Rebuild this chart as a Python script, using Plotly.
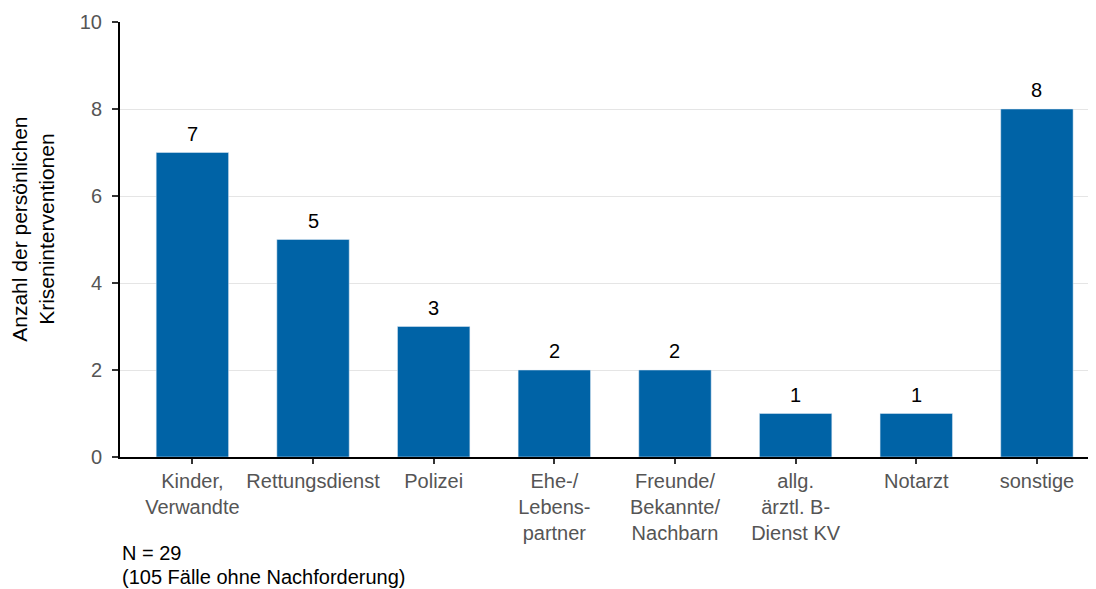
import plotly.graph_objects as go

categories = ['Kinder,<br>Verwandte', 'Rettungsdienst', 'Polizei', 'Ehe-/<br>Lebens-<br>partner',
              'Freunde/<br>Bekannte/<br>Nachbarn', 'allg.<br>ärztl. B-<br>Dienst KV', 'Notarzt', 'sonstige']
values = [7, 5, 3, 2, 2, 1, 1, 8]

xs = list(range(len(categories)))

# value labels above the bars
labels = [dict(x=i, y=v, text=str(v), xref='x', yref='y', yanchor='bottom',
               yshift=6, showarrow=False, font=dict(size=20, color='black'))
          for i, v in zip(xs, values)]

fig = go.Figure(
    data=go.Bar(
        x=xs,
        y=values,
        marker=dict(color='#0063a6'),
        width=0.6,
    ),
    layout=go.Layout(
        width=1088, height=581,
        margin=dict(l=112, r=6, t=14, b=132, autoexpand=False),
        plot_bgcolor='white', paper_bgcolor='white',
        font=dict(family='Liberation Sans, Arial, sans-serif'),
        showlegend=False,
        xaxis=dict(
            tickmode='array', tickvals=xs, ticktext=categories,
            range=[-0.6, 7.44],
            showline=True, linecolor='black', linewidth=2,
            ticks='outside', ticklen=5, tickcolor='#333', tickwidth=2,
            tickfont=dict(size=20, color='#555'),
            showgrid=False, zeroline=False, automargin=False,
        ),
        yaxis=dict(
            range=[0, 10], dtick=2,
            showline=True, linecolor='black', linewidth=2,
            ticks='outside', ticklen=6, tickcolor='#333', tickwidth=2,
            tickfont=dict(size=20, color='#555'), ticklabelstandoff=6,
            gridcolor='#e5e5e5', zeroline=False, automargin=False,
        ),
        annotations=labels + [
            dict(text='Anzahl der persönlichen<br>Kriseninterventionen', textangle=-90,
                 xref='paper', yref='paper', x=-0.09, y=0.524,
                 xanchor='center', yanchor='middle', showarrow=False,
                 font=dict(size=21, color='black')),
            dict(text='N = 29', xref='paper', yref='paper', x=0.0, y=-0.2207,
                 xanchor='left', yanchor='middle', showarrow=False,
                 font=dict(size=20, color='black')),
            dict(text='(105 Fälle ohne Nachforderung)', xref='paper', yref='paper',
                 x=0.0, y=-0.2759, xanchor='left', yanchor='middle', showarrow=False,
                 font=dict(size=20, color='black')),
        ],
    )
)
fig.write_html("out.html")
